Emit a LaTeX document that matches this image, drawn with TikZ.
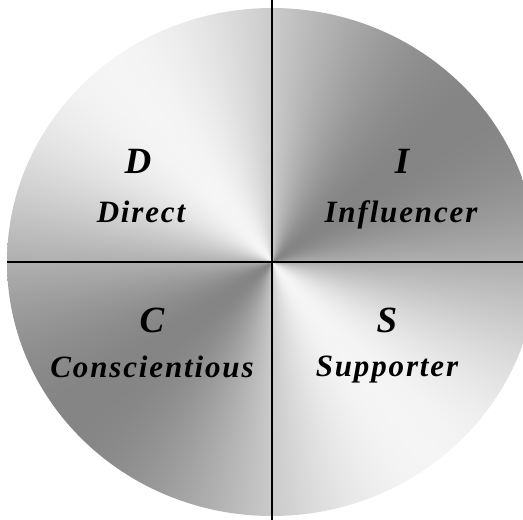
\documentclass[tikz,border=0pt]{standalone}
\usepackage{fontspec}
\newfontfamily\discfont[LetterSpace=6]{Liberation Serif}

% conic grey, like brushed metal
\pgfdeclarefunctionalshading{brushedmetal}{\pgfpoint{-50bp}{-50bp}}{\pgfpoint{50bp}{50bp}}{}{
  0.0001 add exch atan 128 sub 2 mul cos 0.22 mul 0.74 add dup dup
}

\tikzset{
  letter/.style={font=\discfont\bfseries\itshape\fontsize{37}{40}\selectfont, anchor=base, inner sep=0pt},
  trait/.style={font=\discfont\bfseries\itshape\fontsize{31}{34}\selectfont, anchor=base, inner sep=0pt},
  axis/.style={line width=1.6pt, black},
}

\begin{document}
\begin{tikzpicture}[x=1pt,y=-1pt]
    \useasboundingbox (0,0) rectangle (523,520);
    \clip (0,0) rectangle (523,520);

    %disc
    \shade[shading=brushedmetal] (272,262) ellipse [x radius=265, y radius=254];

    %quadrant lines
    \coordinate (top) at (272,0);
    \coordinate (bottom) at (272,520);
    \coordinate (left) at (7,262);
    \coordinate (right) at (523,262);
    \draw[axis] (top) -- (bottom);
    \draw[axis] (left) -- (right);

    %labels
    \node[letter] (d) at (138,173) {D};
    \node[trait] (direct) at (141,222) {Direct};
    \node[letter] (i) at (402,173) {I};
    \node[trait] (influencer) at (401,222) {Influencer};
    \node[letter] (c) at (152,332) {C};
    \node[trait] (consc) at (152,377) {Conscientious};
    \node[letter] (s) at (387,332) {S};
    \node[trait] (supporter) at (387,376) {Supporter};

\end{tikzpicture}
\end{document}
